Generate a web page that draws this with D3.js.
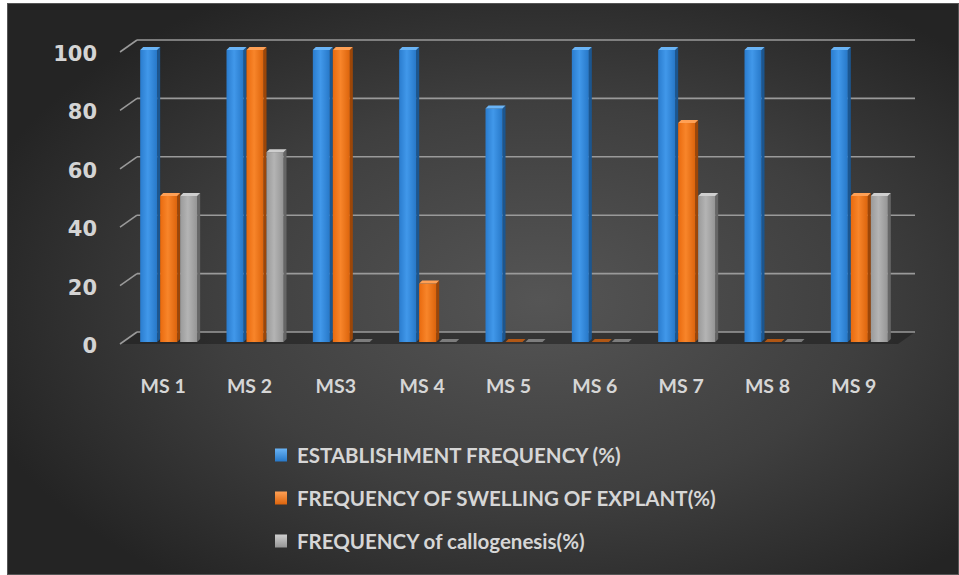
<!DOCTYPE html>
<html>
<head>
<meta charset="utf-8">
<script src="https://cdn.jsdelivr.net/npm/d3@7"></script>
<style>
  html, body { margin: 0; padding: 0; background: #ffffff; }
  svg { display: block; }
</style>
</head>
<body>
<svg id="chart" width="959" height="575"></svg>
<script>
// Culture media trials and their three response frequencies (%)
const categories = ["MS 1", "MS 2", "MS3", "MS 4", "MS 5", "MS 6", "MS 7", "MS 8", "MS 9"];
const establishment = [100, 100, 100, 100, 80, 100, 100, 100, 100];
const swelling = [50, 100, 100, 20, 0, 0, 75, 0, 50];
const callogenesis = [50, 65, 0, 0, 0, 0, 50, 0, 50];
const seriesNames = [
  "ESTABLISHMENT FREQUENCY (%)",
  "FREQUENCY OF SWELLING OF EXPLANT(%)",
  "FREQUENCY of callogenesis(%)"
];
const yTicks = [0, 20, 40, 60, 80, 100];

const seriesValues = [establishment, swelling, callogenesis];
const palette = [
  { l: "#2a7cce", m: "#4198ea", r: "#2778c8", side: "#1b5690", top: "#6ab4f6" },
  { l: "#e96a0e", m: "#f8852a", r: "#dc640c", side: "#9c4608", top: "#ffa055" },
  { l: "#9a9a9a", m: "#b4b4b4", r: "#959595", side: "#666666", top: "#cfcfcf" }
];

const svg = d3.select("#chart");
const defs = svg.append("defs");

// Dark radial backdrop
const bg = defs.append("radialGradient").attr("id", "bg")
  .attr("cx", "56%").attr("cy", "52%").attr("r", "62%");
bg.append("stop").attr("offset", "0%").attr("stop-color", "#555555");
bg.append("stop").attr("offset", "55%").attr("stop-color", "#3f3f3f");
bg.append("stop").attr("offset", "100%").attr("stop-color", "#242424");
svg.append("rect").attr("x", 7).attr("y", 3).attr("width", 952).attr("height", 572)
  .attr("fill", "url(#bg)");
svg.append("rect").attr("x", 7.5).attr("y", 3.5).attr("width", 951).attr("height", 571)
  .attr("fill", "none").attr("stroke", "#555").attr("stroke-width", 1);

// Front-face gradients for each series
palette.forEach((p, i) => {
  const g = defs.append("linearGradient").attr("id", "front" + i)
    .attr("x1", "0%").attr("x2", "100%").attr("y1", "0%").attr("y2", "0%");
  g.append("stop").attr("offset", "0%").attr("stop-color", p.l);
  g.append("stop").attr("offset", "45%").attr("stop-color", p.m);
  g.append("stop").attr("offset", "100%").attr("stop-color", p.r);
  const lg = defs.append("linearGradient").attr("id", "key" + i)
    .attr("x1", "0%").attr("x2", "0%").attr("y1", "0%").attr("y2", "100%");
  lg.append("stop").attr("offset", "0%").attr("stop-color", p.top);
  lg.append("stop").attr("offset", "100%").attr("stop-color", p.r);
});

// Oblique 3D geometry: back wall plane and the depth shift toward the viewer
const depthDx = -17, depthDy = 12;
const backLeft = 137, backRight = 915;
const yBack = d3.scaleLinear().domain([0, 100]).range([332, 40]);
const yFront = d3.scaleLinear().domain([0, 100]).range([342, 50]);

const xCat = d3.scaleBand().domain(categories).range([127, 904]).paddingInner(0).paddingOuter(0);
const groupW = 60;
const xSub = d3.scaleBand().domain(d3.range(3)).range([0, groupW]);
const faceW = 17, capDx = 3, capDy = -3;

// Floor
svg.append("polygon")
  .attr("points", [
    [backLeft, yBack(0)], [backRight, yBack(0)],
    [backRight + depthDx, yBack(0) + depthDy], [backLeft + depthDx, yBack(0) + depthDy]
  ].map(p => p.join(",")).join(" "))
  .attr("fill", "#1e1e1e").attr("fill-opacity", 0.55);

// Back-wall gridlines with their slanted left-wall stubs
const grid = svg.append("g");
yTicks.forEach(t => {
  const y = yBack(t);
  grid.append("line").attr("x1", backLeft).attr("x2", backRight)
    .attr("y1", y).attr("y2", y)
    .attr("stroke", "#9a9a9a").attr("stroke-width", 1.6);
  grid.append("line").attr("x1", backLeft + depthDx).attr("y1", y + depthDy)
    .attr("x2", backLeft).attr("y2", y)
    .attr("stroke", "#9a9a9a").attr("stroke-width", 1.6);
});

// Value axis labels
svg.append("g").selectAll("text").data(yTicks).join("text")
  .attr("x", 97)
  .attr("y", d => yBack(d) + depthDy + 9)
  .attr("text-anchor", "end")
  .attr("font-family", "'DejaVu Sans', sans-serif")
  .attr("font-weight", "bold")
  .attr("font-size", 21)
  .attr("fill", "#d4d4d4")
  .text(d => d);

// Columns
const bars = svg.append("g");
categories.forEach((c, ci) => {
  seriesValues.forEach((vals, si) => {
    const v = vals[ci];
    const p = palette[si];
    const x0 = xCat(c) + (xCat.bandwidth() - groupW) / 2 + xSub(si);
    const yb = yFront(0), yt = yFront(v);
    const g = bars.append("g");
    if (v > 0) {
      g.append("polygon")
        .attr("points", [[x0 + faceW, yt], [x0 + faceW + capDx, yt + capDy],
          [x0 + faceW + capDx, yb + capDy], [x0 + faceW, yb]].map(q => q.join(",")).join(" "))
        .attr("fill", p.side);
      g.append("rect").attr("x", x0).attr("y", yt).attr("width", faceW).attr("height", yb - yt)
        .attr("fill", `url(#front${si})`);
    }
    g.append("polygon")
      .attr("points", [[x0, yt], [x0 + capDx, yt + capDy], [x0 + faceW + capDx, yt + capDy],
        [x0 + faceW, yt]].map(q => q.join(",")).join(" "))
      .attr("fill", v > 0 ? p.top : p.r)
      .attr("fill-opacity", v > 0 ? 1 : 0.75);
  });
});

// Category labels
svg.append("g").selectAll("text").data(categories).join("text")
  .attr("x", d => xCat(d) + xCat.bandwidth() / 2 - 7)
  .attr("y", 393)
  .attr("text-anchor", "middle")
  .attr("font-family", "Lato, sans-serif")
  .attr("font-weight", "bold")
  .attr("font-size", 19.5)
  .attr("fill", "#d6d6d6")
  .text(d => d);

// Legend
const legend = svg.append("g");
const legendY = [455, 498, 541];
seriesNames.forEach((name, i) => {
  legend.append("rect").attr("x", 275).attr("y", legendY[i] - 6.5)
    .attr("width", 12).attr("height", 13).attr("fill", `url(#key${i})`);
  legend.append("text").attr("x", 297).attr("y", legendY[i] + 7.5)
    .attr("font-family", "Lato, sans-serif")
    .attr("font-weight", "bold")
    .attr("font-size", 20.5)
    .attr("fill", "#d6d6d6")
    .text(name);
});
</script>
</body>
</html>
